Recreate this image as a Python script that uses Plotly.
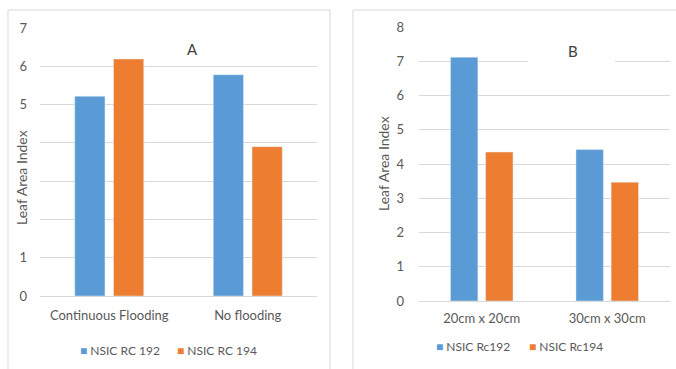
import plotly.graph_objects as go

W, H = 676, 369

cats_a = ["Continuous Flooding", "No flooding"]
rc192_a = [5.22, 5.78]
rc194_a = [6.19, 3.90]
names_a = ["NSIC RC 192", "NSIC RC 194"]

cats_b = ["20cm x 20cm", "30cm x 30cm"]
rc192_b = [7.12, 4.42]
rc194_b = [4.35, 3.47]
names_b = ["NSIC Rc192", "NSIC Rc194"]

ticks_a = [0, 1, 2, 3, 4, 5, 6, 7]
ticktext_a = ["0", "1", "", "", "", "5", "6", "7"]
ticks_b = [0, 1, 2, 3, 4, 5, 6, 7, 8]

BLUE = "#5B9BD5"
ORANGE = "#ED7D31"
TXT = "#595959"
GRID = "#D9D9D9"
FONT = "Lato"

def px(x):
    return x / W

def py(y):
    return 1 - y / H

fig = go.Figure()
fig.add_trace(go.Bar(x=cats_a, y=rc192_a, name=names_a[0], marker_color=BLUE, xaxis="x", yaxis="y"))
fig.add_trace(go.Bar(x=cats_a, y=rc194_a, name=names_a[1], marker_color=ORANGE, xaxis="x", yaxis="y"))
fig.add_trace(go.Bar(x=cats_b, y=rc192_b, name=names_b[0], marker_color=BLUE, xaxis="x2", yaxis="y2"))
fig.add_trace(go.Bar(x=cats_b, y=rc194_b, name=names_b[1], marker_color=ORANGE, xaxis="x2", yaxis="y2"))

axfont = dict(family=FONT, size=13, color=TXT)

fig.update_layout(
    width=W, height=H,
    margin=dict(l=0, r=0, t=0, b=0, autoexpand=False),
    paper_bgcolor="white", plot_bgcolor="white",
    barmode="group", bargap=0.44, bargroupgap=0.22,
    font=dict(family=FONT, size=12, color=TXT),
    showlegend=False,
    xaxis=dict(domain=[px(40), px(317)], anchor="y", showline=True, linecolor=GRID,
               linewidth=1, ticks="", tickfont=axfont, showgrid=False, automargin=False,
               ticklabelstandoff=7),
    yaxis=dict(domain=[py(296), py(28)], anchor="x", range=[0, 7], tickvals=ticks_a,
               ticktext=ticktext_a, showgrid=True, gridcolor=GRID, zeroline=False,
               showline=False, ticks="", tickfont=axfont, ticklabelstandoff=12, automargin=False),
    xaxis2=dict(domain=[px(419), px(670)], anchor="y2", showline=True, linecolor=GRID,
                linewidth=1, ticks="", tickfont=axfont, showgrid=False, automargin=False,
                ticklabelstandoff=5),
    yaxis2=dict(domain=[py(301), py(27)], anchor="x2", range=[0, 8], tickvals=ticks_b,
                showgrid=True, gridcolor=GRID, zeroline=False, showline=False, ticks="",
                tickfont=axfont, ticklabelstandoff=14, automargin=False),
)

# panel borders
fig.add_shape(type="rect", xref="paper", yref="paper", x0=px(8), x1=px(330),
              y0=py(372), y1=py(10), line=dict(color=GRID, width=1), layer="below")
fig.add_shape(type="rect", xref="paper", yref="paper", x0=px(353), x1=px(680),
              y0=py(372), y1=py(10), line=dict(color=GRID, width=1), layer="below")
# white box behind the "B" label, interrupting the gridline
fig.add_shape(type="rect", xref="paper", yref="paper", x0=px(528), x1=px(615),
              y0=py(68), y1=py(40), line=dict(width=0), fillcolor="white", layer="above")

# panel labels
fig.add_annotation(text="A", xref="paper", yref="paper", x=px(192), y=py(49),
                   xanchor="center", yanchor="middle",
                   showarrow=False, font=dict(family=FONT, size=15, color="#404040"))
fig.add_annotation(text="B", xref="paper", yref="paper", x=px(573), y=py(51),
                   xanchor="center", yanchor="middle",
                   showarrow=False, font=dict(family=FONT, size=15, color="#404040"))

# axis titles
fig.add_annotation(text="Leaf Area Index", xref="paper", yref="paper", x=px(22), y=py(178),
                   xanchor="center", yanchor="middle",
                   showarrow=False, textangle=-90, font=dict(family=FONT, size=14, color=TXT))
fig.add_annotation(text="Leaf Area Index", xref="paper", yref="paper", x=px(383), y=py(163),
                   xanchor="center", yanchor="middle",
                   showarrow=False, textangle=-90, font=dict(family=FONT, size=14, color=TXT))

# legends (text entries with coloured keys)
def legend_item(xk, y, color, label):
    fig.add_annotation(text=f"<span style='color:{color}'>■</span> {label}", xref="paper",
                       yref="paper", x=px(xk), y=py(y), xanchor="left", yanchor="middle",
                       showarrow=False, font=dict(family=FONT, size=12, color=TXT))

legend_item(78, 350, BLUE, names_a[0])
legend_item(175, 350, ORANGE, names_a[1])
legend_item(434, 346, BLUE, names_b[0])
legend_item(527, 346, ORANGE, names_b[1])

fig.write_html("out.html")
